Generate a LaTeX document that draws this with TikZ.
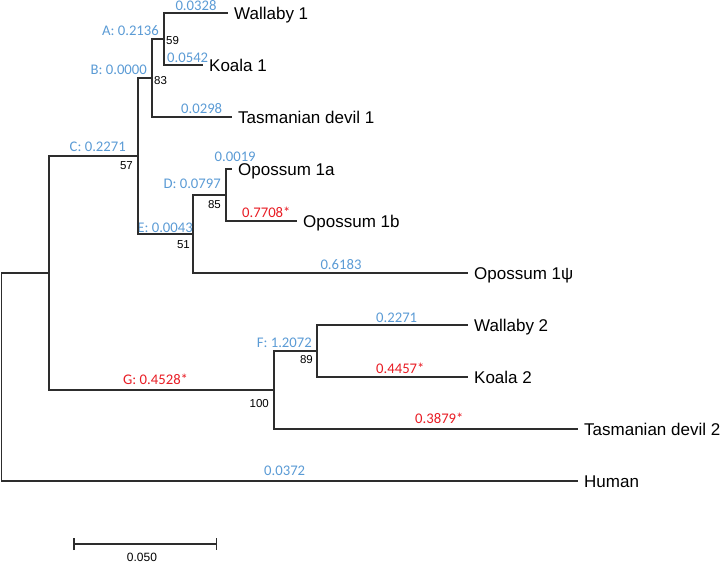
\documentclass[tikz,border=0pt]{standalone}
\usepackage{fontspec}
\setmainfont{Liberation Sans}
\newfontfamily\calfont{Carlito}
\usetikzlibrary{arrows.meta}
\definecolor{bluelab}{RGB}{91,155,213}
\definecolor{redlab}{RGB}{232,28,36}
\definecolor{treeline}{RGB}{45,45,45}
\begin{document}
\begin{tikzpicture}[x=1pt,y=-1pt,
  br/.style={draw=treeline, line width=1.5pt},
  leaf/.style={anchor=base west, inner sep=0pt, xshift=6pt, yshift=-6.3pt, font=\fontsize{17}{20}\selectfont},
  bval/.style={inner sep=0pt, text=bluelab, font=\calfont\fontsize{14.7}{17}\selectfont},
  rval/.style={bval, text=redlab},
  boot/.style={inner sep=0pt, font=\fontsize{11.5}{13}\selectfont},
]
\useasboundingbox (0,0) rectangle (723,565);

% internal nodes
\coordinate (A) at (164,39);
\coordinate (B) at (152,78);
\coordinate (C) at (138,156);
\coordinate (D) at (226,195);
\coordinate (E) at (193,234);
\coordinate (M) at (49,273);
\coordinate (F) at (317,351);
\coordinate (G) at (274,390);
\coordinate (R) at (1.5,377);
% leaf ends
\coordinate (w1) at (228,13);
\coordinate (k1) at (203,65);
\coordinate (t1) at (232,117);
\coordinate (o1a) at (232,169);
\coordinate (o1b) at (297,221);
\coordinate (o1p) at (468,273);
\coordinate (w2) at (468,325);
\coordinate (k2) at (468,377);
\coordinate (t2) at (578,429);
\coordinate (hu) at (578,481);

% branch values
\node[bval, anchor=base] (v1) at (196,10) {0.0328};
\node[bval, anchor=base east] (vA) at (159,35) {A: 0.2136};
\node[bval, anchor=base west] (v2) at (167,62) {0.0542};
\node[bval, anchor=base east] (vB) at (147,74) {B: 0.0000};
\node[bval, anchor=base west] (v3) at (181,113) {0.0298};
\node[bval, anchor=base east] (vC) at (126,151) {C: 0.2271};
\node[bval, anchor=base west] (v4) at (214.5,161) {0.0019};
\node[bval, anchor=base east] (vD) at (221,188) {D: 0.0797};
\node[rval, anchor=base west] (v5) at (242,217) {0.7708*};
\node[bval, anchor=base east] (vE) at (193,232) {E: 0.0043};
\node[bval, anchor=base] (v6) at (341,269) {0.6183};
\node[bval, anchor=base east] (vF) at (312,347) {F: 1.2072};
\node[rval, anchor=base west] (vG) at (123,384) {G: 0.4528*};
\node[bval, anchor=base west] (v7) at (376,322) {0.2271};
\node[rval, anchor=base west] (v8) at (376,373) {0.4457*};
\node[rval, anchor=base west] (v9) at (415,423) {0.3879*};
\node[bval, anchor=base west] (v10) at (264,475) {0.0372};

% bootstrap values
\node[boot, anchor=base west] (b59) at (166,44) {59};
\node[boot, anchor=base west] (b83) at (154,84) {83};
\node[boot, anchor=base east] (b57) at (133,169) {57};
\node[boot, anchor=base east] (b85) at (221,208) {85};
\node[boot, anchor=base east] (b51) at (190,248) {51};
\node[boot, anchor=base east] (b89) at (313,363) {89};
\node[boot, anchor=base east] (b100) at (269,407) {100};

% tree branches
\draw[br] (A) |- (w1);
\draw[br] (A) |- (k1);
\draw[br] (B) |- (A);
\draw[br] (B) |- (t1);
\draw[br] (C) |- (B);
\draw[br] (C) |- (E);
\draw[br] (D) |- (o1a);
\draw[br] (D) |- (o1b);
\draw[br] (E) |- (D);
\draw[br] (E) |- (o1p);
\draw[br] (M) |- (C);
\draw[br] (M) |- (G);
\draw[br] (F) |- (w2);
\draw[br] (F) |- (k2);
\draw[br] (G) |- (F);
\draw[br] (G) |- (t2);
\draw[br] (R) |- (M);
\draw[br] (R) |- (hu);

% leaf labels
\node[leaf] (Lw1) at (w1) {Wallaby 1};
\node[leaf] (Lk1) at (k1) {Koala 1};
\node[leaf] (Lt1) at (t1) {Tasmanian devil 1};
\node[leaf] (Lo1a) at (o1a) {Opossum 1a};
\node[leaf] (Lo1b) at (o1b) {Opossum 1b};
\node[leaf] (Lo1p) at (o1p) {Opossum 1ψ};
\node[leaf] (Lw2) at (w2) {Wallaby 2};
\node[leaf] (Lk2) at (k2) {Koala 2};
\node[leaf] (Lt2) at (t2) {Tasmanian devil 2};
\node[leaf] (Lhu) at (hu) {Human};

% scale bar
\coordinate (s1) at (73,544);
\coordinate (s2) at (217,544);
\draw[br, {Bar[width=12pt]}-{Bar[width=12pt]}] (s1) -- (s2);
\node[boot, anchor=base, font=\fontsize{12}{14}\selectfont] (sl) at (142,561) {0.050};
\end{tikzpicture}
\end{document}
